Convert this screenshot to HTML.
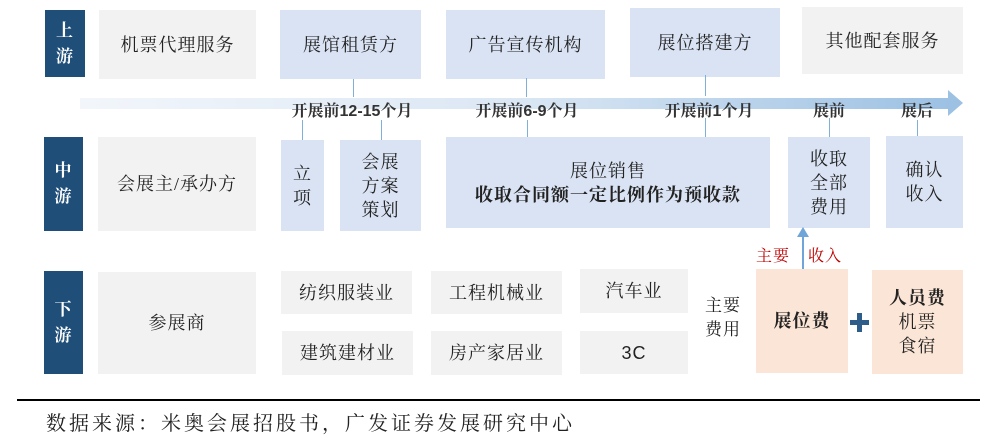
<!DOCTYPE html>
<html><head><meta charset="utf-8"><style>
body{margin:0;width:1007px;height:447px;background:#fff;position:relative;overflow:hidden;font-family:"Liberation Serif","Noto Serif CJK SC",serif;color:#222}
.b{position:absolute;display:flex;align-items:center;justify-content:center;text-align:center;font-size:18px;line-height:24px;letter-spacing:1px}
.g{background:#f2f2f2}.bl{background:#dae3f3}.pk{background:#fbe5d6}
.lab{background:#1f4e79;color:#fff;font-weight:bold;font-size:17px;line-height:26px}
.l{position:absolute;width:1px;background:#7fb0dc}
.t{position:absolute;font-size:16px;font-weight:bold;transform:translateX(-50%);white-space:nowrap;font-family:"Liberation Sans","Noto Serif CJK SC",serif;color:#333}
</style></head><body>
<div style="position:absolute;left:80px;top:98px;width:870px;height:11px;background:linear-gradient(to right,#f2f6fb,#dbe7f4 50%,#9dc1e3)"></div>
<div style="position:absolute;left:948px;top:90px;width:0;height:0;border-top:13px solid transparent;border-bottom:13px solid transparent;border-left:15px solid #9dc1e3"></div>

<div class="b lab" style="left:45px;top:10px;width:40px;height:67px">上<br>游</div>
<div class="b g" style="left:99px;top:10px;width:157px;height:69px">机票代理服务</div>
<div class="b bl" style="left:280px;top:10px;width:141px;height:69px">展馆租赁方</div>
<div class="b bl" style="left:446px;top:10px;width:159px;height:69px">广告宣传机构</div>
<div class="b bl" style="left:630px;top:8px;width:150px;height:69px">展位搭建方</div>
<div class="b g" style="left:802px;top:7px;width:161px;height:67px">其他配套服务</div>

<div class="l" style="left:353px;top:79px;height:18px"></div>
<div class="l" style="left:526px;top:78px;height:19px"></div>
<div class="l" style="left:705px;top:75px;height:21px"></div>
<div class="l" style="left:302px;top:120px;height:20px"></div>
<div class="l" style="left:381px;top:120px;height:20px"></div>
<div class="l" style="left:527px;top:120px;height:17px"></div>
<div class="l" style="left:705px;top:118px;height:19px"></div>
<div class="l" style="left:829px;top:118px;height:19px"></div>
<div class="l" style="left:917px;top:120px;height:17px"></div>

<div class="t" style="left:352px;top:98px">开展前12-15个月</div>
<div class="t" style="left:527px;top:98px">开展前6-9个月</div>
<div class="t" style="left:709px;top:98px">开展前1个月</div>
<div class="t" style="left:829px;top:98px">展前</div>
<div class="t" style="left:917px;top:98px">展后</div>

<div class="b lab" style="left:44px;top:137px;width:39px;height:94px">中<br>游</div>
<div class="b g" style="left:98px;top:137px;width:158px;height:94px">会展主/承办方</div>
<div class="b bl" style="left:281px;top:140px;width:43px;height:91px">立<br>项</div>
<div class="b bl" style="left:340px;top:140px;width:81px;height:91px">会展<br>方案<br>策划</div>
<div class="b bl" style="left:446px;top:137px;width:324px;height:91px;flex-direction:column"><span>展位销售</span><span style="font-weight:bold">收取合同额一定比例作为预收款</span></div>
<div class="b bl" style="left:788px;top:137px;width:82px;height:91px">收取<br>全部<br>费用</div>
<div class="b bl" style="left:886px;top:136px;width:77px;height:92px">确认<br>收入</div>

<div class="l" style="left:802px;top:236px;height:33px;width:2px;background:#6fa5d8"></div>
<div style="position:absolute;left:797px;top:227px;border-left:6px solid transparent;border-right:6px solid transparent;border-bottom:10px solid #6fa5d8"></div>
<div style="position:absolute;left:756px;top:243px;color:#c00000;font-size:16px;letter-spacing:1px">主要</div>
<div style="position:absolute;left:808px;top:243px;color:#c00000;font-size:16px;letter-spacing:1px">收入</div>

<div class="b lab" style="left:44px;top:271px;width:39px;height:103px">下<br>游</div>
<div class="b g" style="left:98px;top:272px;width:158px;height:102px">参展商</div>
<div class="b g" style="left:281px;top:271px;width:131px;height:43px">纺织服装业</div>
<div class="b g" style="left:282px;top:331px;width:131px;height:44px">建筑建材业</div>
<div class="b g" style="left:431px;top:271px;width:131px;height:43px">工程机械业</div>
<div class="b g" style="left:431px;top:331px;width:131px;height:44px">房产家居业</div>
<div class="b g" style="left:580px;top:269px;width:108px;height:44px">汽车业</div>
<div class="b g" style="left:580px;top:331px;width:108px;height:43px;font-family:'Liberation Sans',sans-serif">3C</div>
<div class="b" style="left:700px;top:288px;width:46px;height:60px;font-size:17px">主要<br>费用</div>
<div class="b pk" style="left:756px;top:269px;width:92px;height:104px;font-weight:bold">展位费</div>
<div style="position:absolute;left:850px;top:320px;width:19px;height:5px;background:#2e5d8a"></div>
<div style="position:absolute;left:857px;top:313px;width:5px;height:19px;background:#2e5d8a"></div>
<div class="b pk" style="left:872px;top:270px;width:91px;height:104px;flex-direction:column"><b>人员费</b><span>机票</span><span>食宿</span></div>

<div style="position:absolute;left:17px;top:399px;width:963px;height:2px;background:#000"></div>
<div style="position:absolute;left:46px;top:407px;font-size:20px;letter-spacing:3px;color:#222">数据来源：米奥会展招股书，广发证券发展研究中心</div>
</body></html>
